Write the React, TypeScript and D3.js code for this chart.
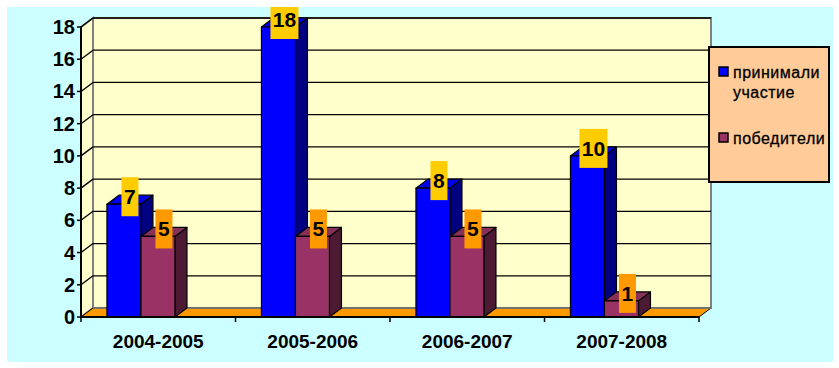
import * as d3 from 'd3';

const categories = ['2004-2005', '2005-2006', '2006-2007', '2007-2008'];
const series = ['принимали участие', 'победители'];
const participants = [7, 18, 8, 10];
const winners = [5, 5, 5, 1];
const yTicks = [0, 2, 4, 6, 8, 10, 12, 14, 16, 18];

const seriesValues = [participants, winners];
const seriesColors = [
  { front: '#0000ff', top: '#0000e6', side: '#000080', label: '#ffcc00' },
  { front: '#993366', top: '#873058', side: '#4d1a33', label: '#ff9900' },
];

export default function App() {
  const width = 839;
  const height = 368;
  // depth of the 3d box
  const dx = 12;
  const dy = -9;
  const left = 81;
  const right = 699;
  const bottom = 317;
  const top = 27;

  const y = d3.scaleLinear().domain([0, 18]).range([bottom, top]);
  const x0 = d3.scaleBand<string>().domain(categories).range([left, right]).padding(0);
  const x1 = d3
    .scaleBand<string>()
    .domain(series)
    .range([0, x0.bandwidth()])
    .paddingInner(0)
    .paddingOuter(1.272)
    .align(0.3);

  const poly = (pts: [number, number][]) => pts.map(p => p.join(',')).join(' ');
  const font = 'Arial, "Liberation Sans", sans-serif';
  const narrow = '"Liberation Sans Narrow", "Arial Narrow", Arial, sans-serif';

  const bars: JSX.Element[] = [];
  const labels: JSX.Element[] = [];
  categories.forEach((c, i) => {
    series.forEach((s, j) => {
      const v = seriesValues[j][i];
      const col = seriesColors[j];
      const bx = (x0(c) || 0) + (x1(s) || 0);
      const bw = x1.bandwidth();
      const by = y(v);
      bars.push(
        <g key={`b${i}-${j}`} stroke="#000" strokeWidth={1.2} strokeLinejoin="round">
          <polygon
            fill={col.side}
            points={poly([[bx + bw, by], [bx + bw + dx, by + dy], [bx + bw + dx, bottom + dy], [bx + bw, bottom]])}
          />
          <polygon
            fill={col.top}
            points={poly([[bx, by], [bx + dx, by + dy], [bx + bw + dx, by + dy], [bx + bw, by]])}
          />
          <rect x={bx} y={by} width={bw} height={bottom - by} fill={col.front} />
        </g>
      );
      const txt = String(v);
      const lw = 6 + 11 * txt.length;
      const cx = bx + bw / 2 + dx / 2;
      labels.push(
        <g key={`l${i}-${j}`}>
          <rect x={cx - lw / 2} y={by - 27} width={lw} height={39} fill={col.label} />
          <text
            x={cx}
            y={by - 7.5}
            textAnchor="middle"
            dominantBaseline="central"
            fontFamily={narrow}
            fontWeight="bold"
            fontSize={21}
            fill="#000"
          >
            {txt}
          </text>
        </g>
      );
    });
  });

  const legendText = { fontFamily: font, fontSize: 16, letterSpacing: 0.5, stroke: '#000', strokeWidth: 0.3 };

  return (
    <svg width={width} height={height} style={{ position: 'absolute', left: 0, top: 0, background: '#fff' }}>
      <defs>
        <clipPath id="area">
          <rect x={7} y={7} width={826} height={355} />
        </clipPath>
      </defs>
      <g clipPath="url(#area)">
        <rect x={7} y={7} width={826} height={355} fill="#ccffff" />

        {/* side wall and back wall */}
        <polygon
          fill="#ffffcc"
          stroke="#808080"
          strokeWidth={2}
          points={poly([[left, bottom], [left, top], [left + dx, top + dy], [left + dx, bottom + dy]])}
        />
        <rect
          x={left + dx}
          y={top + dy}
          width={right - left}
          height={bottom - top}
          fill="#ffffcc"
          stroke="#808080"
          strokeWidth={2}
        />

        {/* gridlines */}
        {yTicks.filter(t => t > 0).map(t => (
          <g key={`g${t}`} stroke="#000" strokeWidth={1.3}>
            <line x1={left} y1={y(t)} x2={left + dx} y2={y(t) + dy} />
            <line x1={left + dx} y1={y(t) + dy} x2={right + dx} y2={y(t) + dy} />
          </g>
        ))}

        {/* floor */}
        <polygon
          fill="#ff9900"
          stroke="#000"
          strokeWidth={1}
          points={poly([[left, bottom], [right, bottom], [right + dx, bottom + dy], [left + dx, bottom + dy]])}
        />
        <line x1={left + dx} y1={bottom + dy} x2={right + dx} y2={bottom + dy} stroke="#808080" strokeWidth={1.5} />

        {bars}

        {/* axes */}
        <line x1={left} y1={top} x2={left} y2={bottom} stroke="#000" strokeWidth={2} />
        <line x1={left} y1={bottom} x2={right} y2={bottom} stroke="#000" strokeWidth={2} />
        {yTicks.map(t => (
          <g key={`yt${t}`}>
            <line x1={left - 4} y1={y(t)} x2={left} y2={y(t)} stroke="#000" strokeWidth={1.5} />
            <text
              x={75}
              y={y(t)}
              textAnchor="end"
              dominantBaseline="central"
              fontFamily={font}
              fontWeight="bold"
              fontSize={20}
            >
              {t}
            </text>
          </g>
        ))}
        {[...categories.map(c => x0(c) || 0), right].map((xv, k) => (
          <line key={`xt${k}`} x1={xv} y1={bottom} x2={xv} y2={bottom + 5} stroke="#000" strokeWidth={1.5} />
        ))}
        {categories.map(c => (
          <text
            key={`xl${c}`}
            x={(x0(c) || 0) + x0.bandwidth() / 2}
            y={348}
            textAnchor="middle"
            fontFamily={font}
            fontWeight="bold"
            fontSize={19}
          >
            {c}
          </text>
        ))}

        {labels}

        {/* legend */}
        <rect x={709} y={47} width={120} height={135} fill="#ffcc99" stroke="#000" strokeWidth={2} />
        <rect x={719} y={67} width={9} height={9} fill={seriesColors[0].front} stroke="#000" strokeWidth={1.5} />
        <text x={733} y={72} dominantBaseline="central" {...legendText}>
          принимали
        </text>
        <text x={733} y={92} dominantBaseline="central" {...legendText}>
          участие
        </text>
        <rect x={719} y={133} width={9} height={9} fill={seriesColors[1].front} stroke="#000" strokeWidth={1.5} />
        <text x={733} y={138} dominantBaseline="central" {...legendText}>
          победители
        </text>
      </g>
    </svg>
  );
}
